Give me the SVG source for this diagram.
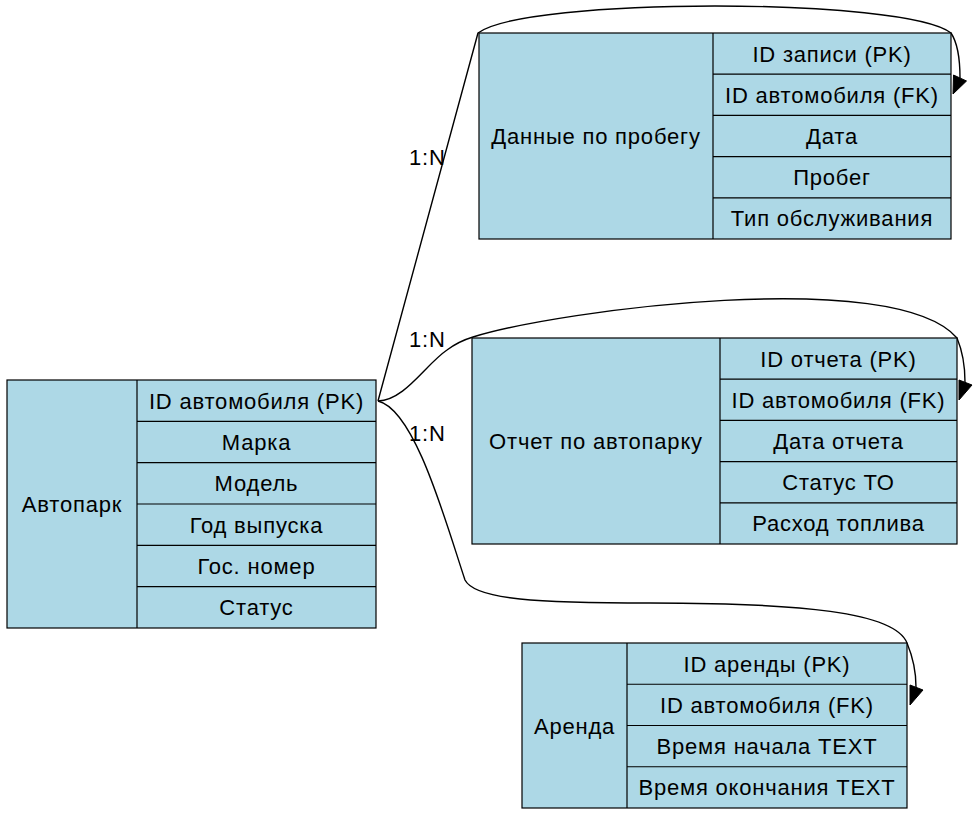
<svg xmlns="http://www.w3.org/2000/svg" width="975" height="816" viewBox="0 0 975 816">
<style>
.box{fill:#add8e6;stroke:#000;stroke-width:1.2}
.ln{fill:none;stroke:#000;stroke-width:1.2}
text{font-family:"Liberation Sans",Arial,sans-serif;font-size:22px;letter-spacing:0.8px;fill:#000}
.c{text-anchor:middle}
.edge{fill:none;stroke:#000;stroke-width:1.4}
.ah{fill:#000;stroke:#000;stroke-width:1}
</style>
<rect width="975" height="816" fill="#fff"/>
<g id="connectors">
<path class="edge" d="M378,401 L478,33 C525,-3 905,-3 951,33 C957,42 960,60 960,78"/>
<polygon class="ah" points="953.5,75 966.5,81 953,94"/>
<path class="edge" d="M378,401 C405,400 425,365 447,350 C455,344 463,340 473,337 C560,310 895,266 957,338 C962,350 965,365 965,382"/>
<polygon class="ah" points="959,380 972,385 959,400"/>
<path class="edge" d="M378,401 C415,410 445,520 465,580 C475,600 540,603 650,603 C800,603 895,612 907,643 C912,655 916,670 916,687"/>
<polygon class="ah" points="910,685 923,690 910,705"/>
<text x="409" y="165">1:N</text>
<text x="409" y="347">1:N</text>
<text x="409" y="441">1:N</text>
</g>
<g id="avtopark">
<rect class="box" x="7" y="380" width="369" height="248"/>
<path class="ln" d="M137,380V628M137,421.3H376M137,462.7H376M137,504H376M137,545.3H376M137,586.7H376"/>
<text class="c" x="72" y="512">Автопарк</text>
<text class="c" x="256.5" y="408.7">ID автомобиля (PK)</text>
<text class="c" x="256.5" y="450">Марка</text>
<text class="c" x="256.5" y="491.3">Модель</text>
<text class="c" x="256.5" y="532.7">Год выпуска</text>
<text class="c" x="256.5" y="574">Гос. номер</text>
<text class="c" x="256.5" y="615.3">Статус</text>
</g>
<g id="probeg">
<rect class="box" x="479" y="33" width="472" height="206"/>
<path class="ln" d="M713,33V239M713,74.2H951M713,115.4H951M713,156.6H951M713,197.8H951"/>
<text class="c" x="596" y="144">Данные по пробегу</text>
<text class="c" x="832" y="61.6">ID записи (PK)</text>
<text class="c" x="832" y="102.8">ID автомобиля (FK)</text>
<text class="c" x="832" y="144">Дата</text>
<text class="c" x="832" y="185.2">Пробег</text>
<text class="c" x="832" y="226.4">Тип обслуживания</text>
</g>
<g id="otchet">
<rect class="box" x="472" y="338" width="485" height="206"/>
<path class="ln" d="M720,338V544M720,379.2H957M720,420.4H957M720,461.6H957M720,502.8H957"/>
<text class="c" x="596" y="449">Отчет по автопарку</text>
<text class="c" x="838.5" y="366.6">ID отчета (PK)</text>
<text class="c" x="838.5" y="407.8">ID автомобиля (FK)</text>
<text class="c" x="838.5" y="449">Дата отчета</text>
<text class="c" x="838.5" y="490.2">Статус ТО</text>
<text class="c" x="838.5" y="531.4">Расход топлива</text>
</g>
<g id="arenda">
<rect class="box" x="522" y="643" width="385" height="165"/>
<path class="ln" d="M627,643V808M627,684.25H907M627,725.5H907M627,766.75H907"/>
<text class="c" x="574.5" y="733.5">Аренда</text>
<text class="c" x="767" y="671.6">ID аренды (PK)</text>
<text class="c" x="767" y="712.9">ID автомобиля (FK)</text>
<text class="c" x="767" y="754.1">Время начала TEXT</text>
<text class="c" x="767" y="795.4">Время окончания TEXT</text>
</g>
</svg>
